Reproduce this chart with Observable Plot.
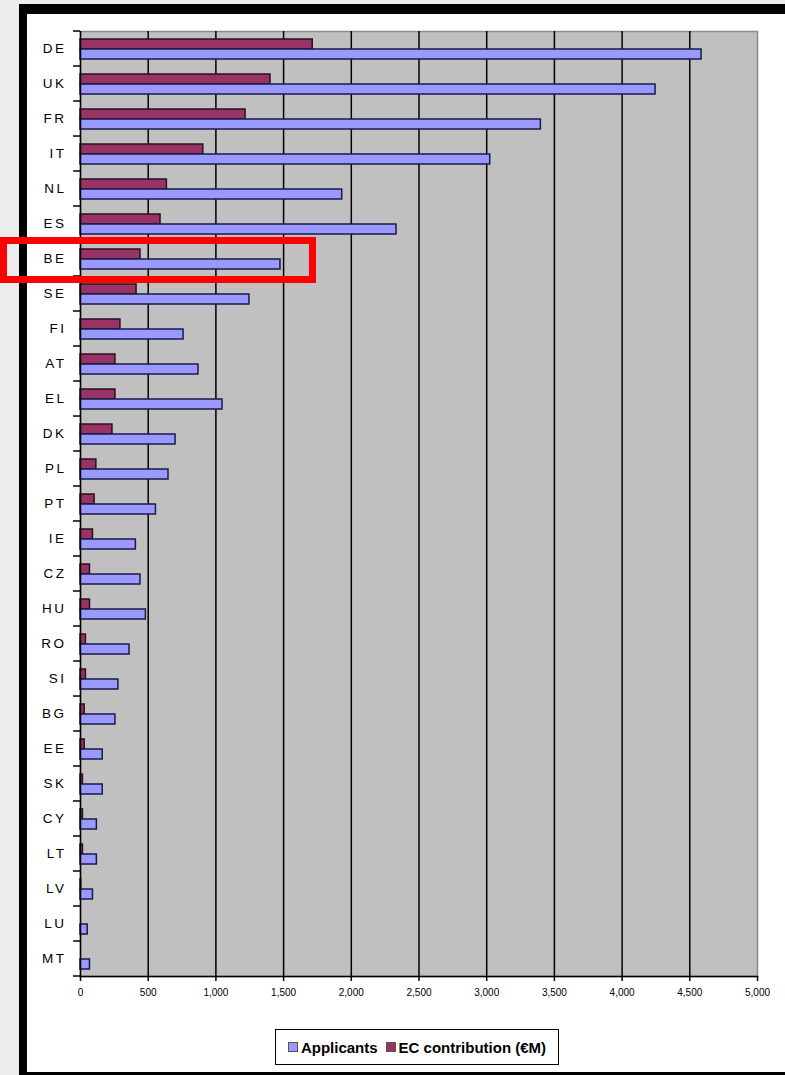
<!DOCTYPE html>
<html>
<head>
<meta charset="utf-8">
<script src="https://cdn.jsdelivr.net/npm/d3@7"></script>
<script src="https://cdn.jsdelivr.net/npm/@observablehq/plot@0.6"></script>
<style>
html,body{margin:0;padding:0;}
body{width:785px;height:1075px;background:#ececec;position:relative;overflow:hidden;font-family:"Liberation Sans",Arial,sans-serif;}
#frame{position:absolute;left:19px;top:4px;width:766px;height:1071px;background:#000;}
#inner{position:absolute;left:27px;top:14px;width:758px;height:1058px;background:#fff;}
#chart{position:absolute;left:0;top:0;}
#hl{position:absolute;left:0;top:237px;width:316px;height:46px;border:7px solid #ff0000;box-sizing:border-box;}
#legend{position:absolute;left:275px;top:1029px;width:284px;height:36px;box-sizing:border-box;border:1px solid #000;background:#fff;
  display:flex;align-items:center;justify-content:center;font-weight:bold;font-size:15px;color:#000;white-space:nowrap;}
#legend .sw{display:inline-block;width:8px;height:8px;border:1px solid #555;margin-right:3px;}
#legend .item{display:flex;align-items:center;margin:0 4px;}
</style>
</head>
<body>
<div id="frame"></div>
<div id="inner"></div>
<div id="chart"></div>
<div id="hl"></div>
<div id="legend"></div>
<script>
const countries = ["DE","UK","FR","IT","NL","ES","BE","SE","FI","AT","EL","DK","PL","PT","IE","CZ","HU","RO","SI","BG","EE","SK","CY","LT","LV","LU","MT"];
const applicants = [4587,4247,3400,3026,1933,2334,1477,1248,761,871,1049,702,650,557,409,443,483,362,280,258,164,164,121,121,92,53,70];
const ecContribution = [1715,1403,1219,907,638,591,443,414,295,258,258,236,117,104,92,70,70,40,40,31,31,18,18,18,5,0,0];
const seriesNames = ["Applicants","EC contribution (€M)"];
const seriesColors = ["#9999ff","#993366"];
const xTicks = [0,500,1000,1500,2000,2500,3000,3500,4000,4500,5000];

const rows = countries.map((c,i)=>({country:c, app:applicants[i], ec:ecContribution[i]}));

const chart = Plot.plot({
  width: 785,
  height: 1075,
  marginLeft: 80,
  marginRight: 28,
  marginTop: 31,
  marginBottom: 99,
  style: {background:"transparent", fontFamily:"'Liberation Sans', Arial, sans-serif", color:"#000", overflow:"visible"},
  x: {domain:[0,5000], label:null},
  y: {domain: countries, padding: 0, label:null},
  marks: [
    Plot.frame({fill:"#c0c0c0", stroke:"#8a8a8a", strokeWidth:1.5}),
    Plot.gridX(xTicks.slice(1, -1), {stroke:"#000", strokeOpacity:1, strokeWidth:1.5}),
    Plot.barX(rows, {y:"country", x:"ec", fill:seriesColors[1], stroke:"#2a1020", strokeWidth:1.5, insetTop:8, insetBottom:17}),
    Plot.barX(rows, {y:"country", x:"app", fill:seriesColors[0], stroke:"#1a1a4a", strokeWidth:1.5, insetTop:18, insetBottom:7}),
    Plot.ruleX([0], {stroke:"#000", strokeWidth:1.5}),
    Plot.axisY({tickSize:0, tickPadding:14, fontSize:13.5, label:null}),
    Plot.axisX({ticks:xTicks, tickSize:5, tickPadding:7, tickFormat:d3.format(","), fontSize:10, strokeWidth:1.5, label:null}),
    Plot.frame({anchor:"bottom", stroke:"#000", strokeWidth:1.5})
  ]
});
document.getElementById("chart").appendChild(chart);

// letter-spaced category labels
d3.select(chart).selectAll("text").filter(function(){ return countries.includes(this.textContent); })
  .attr("letter-spacing","2.5px");

// category tick marks at band boundaries (Excel style)
const ys = chart.scale("y");
const xs = chart.scale("x");
const x0 = xs.apply(0);
const boundaries = countries.map(c => ys.apply(c)).concat([ys.apply(countries[countries.length-1]) + ys.bandwidth]);
d3.select(chart).append("g").attr("aria-label","category-ticks")
  .selectAll("line").data(boundaries).join("line")
  .attr("x1", x0 - 7).attr("x2", x0).attr("y1", d=>d).attr("y2", d=>d)
  .attr("stroke","#000").attr("stroke-width",1.5);

const legend = document.getElementById("legend");
seriesNames.forEach((name,i)=>{
  const item = document.createElement("span");
  item.className = "item";
  const sw = document.createElement("span");
  sw.className = "sw";
  sw.style.background = seriesColors[i];
  item.appendChild(sw);
  item.appendChild(document.createTextNode(name));
  legend.appendChild(item);
});
</script>
</body>
</html>
